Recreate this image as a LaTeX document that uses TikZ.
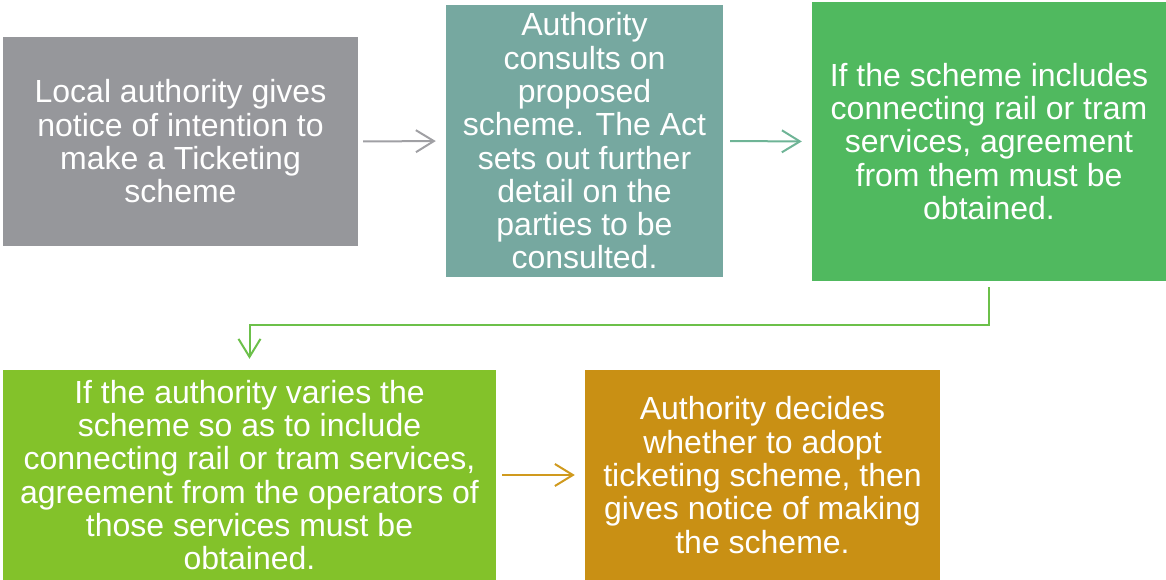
\documentclass[tikz,border=0pt]{standalone}
\usepackage{fontspec}
\setmainfont{Liberation Sans}
\usetikzlibrary{arrows.meta}
\definecolor{cgray}{RGB}{150,151,155}
\definecolor{cteal}{RGB}{118,168,160}
\definecolor{cgreen}{RGB}{80,185,95}
\definecolor{clime}{RGB}{131,194,42}
\definecolor{corange}{RGB}{201,144,20}
\definecolor{agray}{RGB}{160,160,164}
\definecolor{ateal}{RGB}{110,180,150}
\definecolor{agreen}{RGB}{108,192,74}
\definecolor{aorange}{RGB}{208,154,30}
\begin{document}
\begin{tikzpicture}[x=1pt,y=-1pt,
  stepbox/.style={rectangle, inner sep=0pt, text=white, align=center,
    font=\fontsize{32}{33.3}\selectfont},
  flow/.style={line width=2pt, -{Straight Barb[length=18pt,width=22pt,line width=2pt]}}]
\useasboundingbox (0,0) rectangle (1166,580);
\node[stepbox, fill=cgray, minimum width=355pt, minimum height=209pt] (b1) at (180.5,141.5)
  {Local authority gives\\notice of intention to\\make a Ticketing\\scheme};
\node[stepbox, fill=cteal, minimum width=277pt, minimum height=272pt] (b2) at (584.5,141)
  {Authority\\consults on\\proposed\\scheme. The Act\\sets out further\\detail on the\\parties to be\\consulted.};
\node[stepbox, fill=cgreen, minimum width=354pt, minimum height=279pt] (b3) at (989,141.5)
  {If the scheme includes\\connecting rail or tram\\services, agreement\\from them must be\\obtained.};
\node[stepbox, fill=clime, minimum width=493pt, minimum height=210pt] (b4) at (249.5,475)
  {If the authority varies the\\scheme so as to include\\connecting rail or tram services,\\agreement from the operators of\\those services must be\\obtained.};
\node[stepbox, fill=corange, minimum width=355pt, minimum height=210pt] (b5) at (762.5,475)
  {Authority decides\\whether to adopt\\ticketing scheme, then\\gives notice of making\\the scheme.};
\coordinate (m) at (990,325);
\draw[flow, draw=agray, shorten <=5pt, shorten >=10pt] (b1.east) -- (b2.west);
\draw[flow, draw=ateal, shorten <=7pt, shorten >=10pt] (b2.east) -- (b3.west);
\draw[flow, draw=agreen, shorten <=6pt, shorten >=11pt] (b3.south) -- (b3.south |- m) -| (b4.north);
\draw[flow, draw=aorange, shorten <=6pt, shorten >=10pt] (b4.east) -- (b5.west);
\end{tikzpicture}
\end{document}
